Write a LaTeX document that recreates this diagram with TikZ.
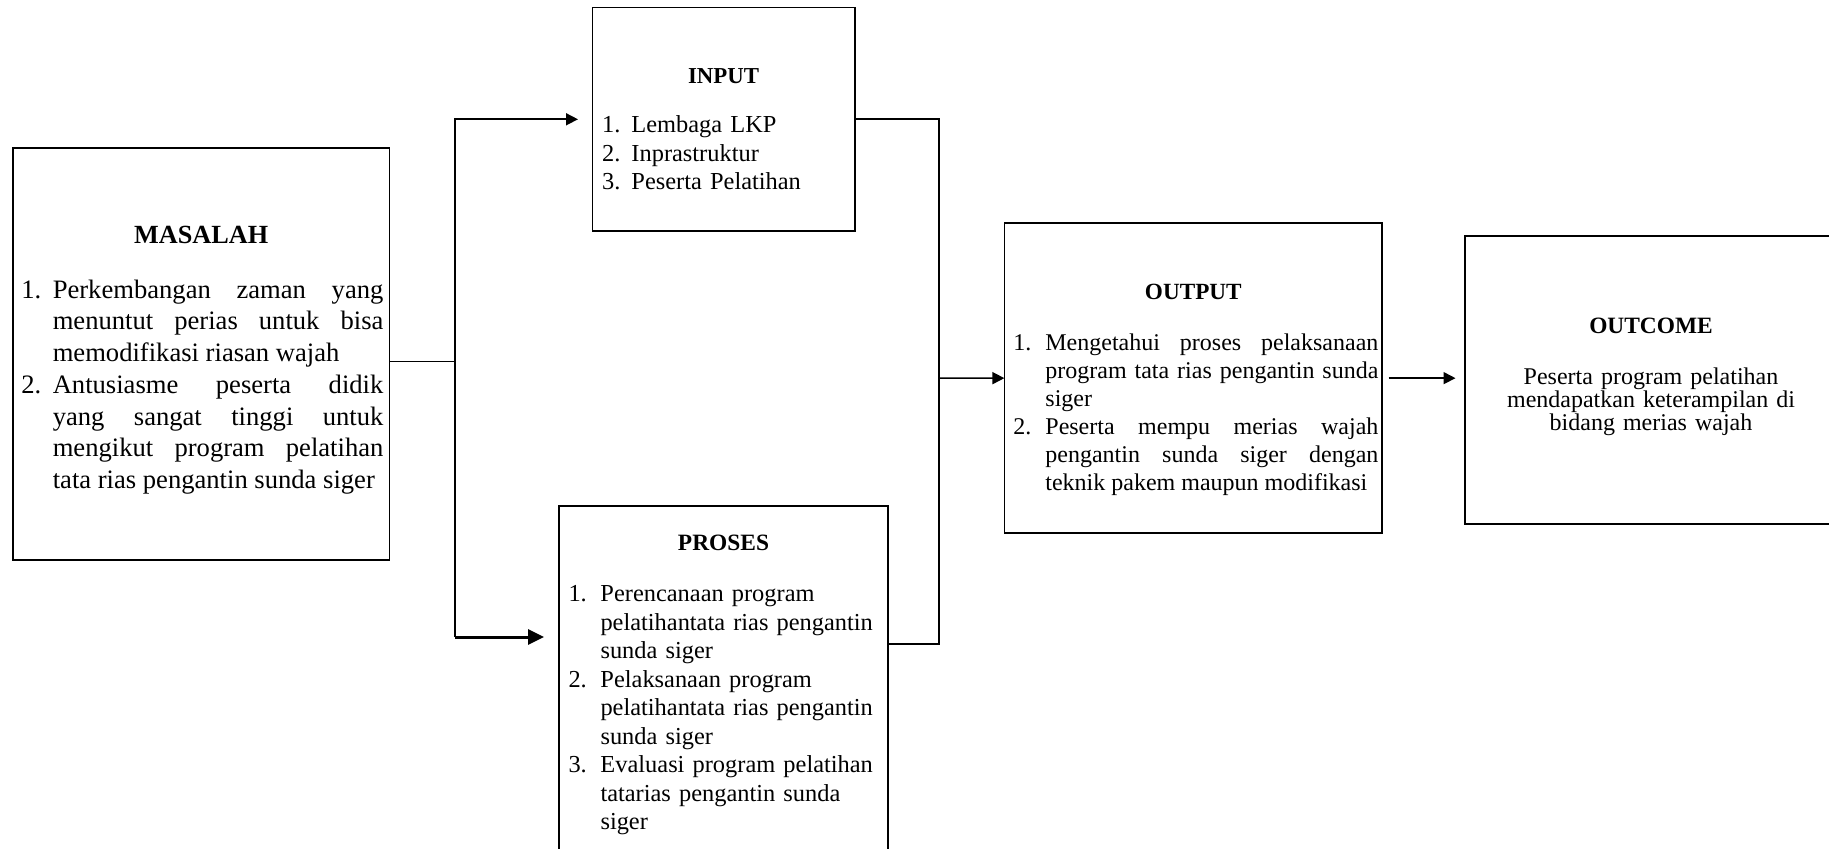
\documentclass[tikz,border=0pt]{standalone}
\usepackage{fontspec}
\setmainfont{Liberation Serif}
\usetikzlibrary{arrows.meta}
\newcommand{\lstitem}[3]{\leavevmode\hangindent=#1\relax\hangafter=1\relax\makebox[#1][l]{#2}#3\par}
\tolerance=9999
\hbadness=10000
\begin{document}
\begin{tikzpicture}[x=0.5pt,y=-0.5pt,
  box/.style={draw, line width=0.8pt, rectangle, inner sep=0pt, outer sep=0pt},
  ttl/.style={anchor=base, inner sep=0pt, font=\bfseries\fontsize{#1}{#1}\selectfont},
  lst/.style={anchor=base west, inner sep=0pt},
  conn/.style={line width=0.8pt},
  arr/.style={line width=0.8pt, -{Triangle[length=6pt,width=6pt]}},
  thickarr/.style={line width=1.5pt, -{Triangle[length=8pt,width=7.5pt]}}]
\useasboundingbox (0,0) rectangle (1829,849);
\clip (0,0) rectangle (1829,849);

% boxes
\node[box, minimum width=188.4pt, minimum height=206pt] (masalah) at (201.2,354) {};
\node[box, minimum width=131.25pt, minimum height=111.7pt] (input) at (723.75,119.3) {};
\node[box, minimum width=164.5pt, minimum height=182pt] (proses) at (723.5,688) {};
\node[box, minimum width=188.9pt, minimum height=154.85pt] (output) at (1193.3,378.15) {};
\node[box, minimum width=192.5pt, minimum height=144pt] (outcome) at (1657.5,380) {};

% titles
\node[ttl=13.1] (tmasalah) at (201.2,244) {MASALAH};
\node[ttl=11.4] (tinput) at (723.5,83.3) {INPUT};
\node[ttl=11.7] (tproses) at (723.5,550) {PROSES};
\node[ttl=11.6] (toutput) at (1193.3,300) {OUTPUT};
\node[ttl=11.7] (toutcome) at (1651,333.3) {OUTCOME};

% lists
\node[lst, text width=181pt, align=justify, font=\fontsize{13.3}{15.85}\selectfont] (lmasalah) at (21,298.3)
{\lstitem{15.7pt}{1.}{Perkembangan zaman yang\linebreak menuntut perias untuk bisa\linebreak memodifikasi riasan wajah}%
\lstitem{15.7pt}{2.}{Antusiasme peserta didik\linebreak yang sangat tinggi untuk\linebreak mengikut program pelatihan\linebreak tata rias pengantin sunda siger}};

\node[lst, text width=125pt, align=left, font=\fontsize{12.2}{14.2}\selectfont] (linput) at (601.8,132.7)
{\lstitem{14.65pt}{1.}{Lembaga LKP}%
\lstitem{14.65pt}{2.}{Inprastruktur}%
\lstitem{14.65pt}{3.}{Peserta Pelatihan}};

\node[lst, text width=160pt, align=left, font=\fontsize{12.2}{14.25}\selectfont] (lproses) at (568.1,601.7)
{\lstitem{16pt}{1.}{Perencanaan program\newline pelatihantata rias pengantin\newline sunda siger}%
\lstitem{16pt}{2.}{Pelaksanaan program\newline pelatihantata rias pengantin\newline sunda siger}%
\lstitem{16pt}{3.}{Evaluasi program pelatihan\newline tatarias pengantin sunda\newline siger}};

\node[lst, text width=182.5pt, align=justify, font=\fontsize{12}{14}\selectfont] (loutput) at (1013,351)
{\lstitem{16pt}{1.}{Mengetahui proses pelaksanaan\linebreak program tata rias pengantin sunda\linebreak siger}%
\lstitem{16pt}{2.}{Peserta mempu merias wajah\linebreak pengantin sunda siger dengan\linebreak teknik pakem maupun modifikasi}};

\node[anchor=base, inner sep=0pt, text width=160pt, align=center, font=\fontsize{12}{11.3}\selectfont] (loutcome) at (1651,385)
{Peserta program pelatihan\\ mendapatkan keterampilan di\\ bidang merias wajah};

% connectors
\coordinate (j1) at (455,361.7);
\coordinate (pin) at (559,637);
\coordinate (j2) at (939,378.2);
\coordinate (pout) at (888,644);
\draw[conn] (masalah.east |- j1) -- (j1);
\draw[arr, shorten >=7.25pt] (j1) |- (input.west);
\draw[conn] (j1) -- (j1 |- pin);
\draw[thickarr, shorten >=7.5pt] (j1 |- pin) -- (pin);
\draw[conn] (input.east) -| (j2) |- (pout);
\draw[arr] (j2) -- (output.west);
\draw[arr, shorten >=4.75pt] ([xshift=3.2pt]output.east) -- (output.east -| outcome.west);
\end{tikzpicture}
\end{document}
